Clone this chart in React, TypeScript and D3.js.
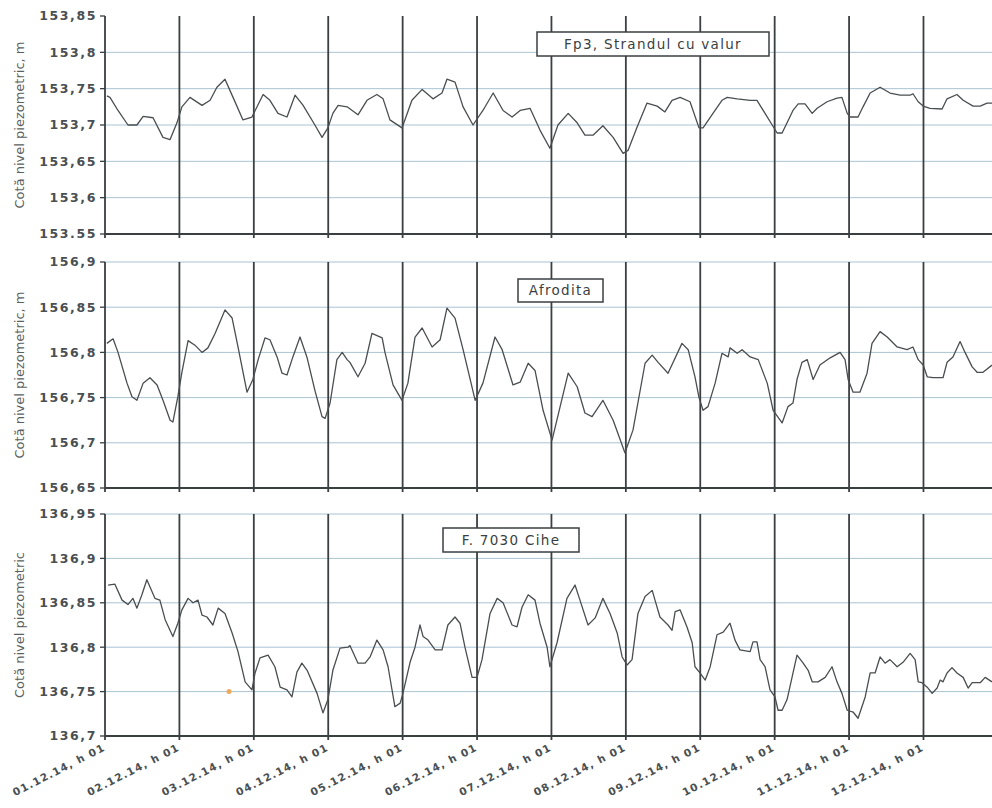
import React from "react";
import * as d3 from "d3";

// time in hours since 01.12.14 h01, level in m
const fp3Levels: [number, number][] = [[0.6,153.740],[1.6,153.738],[4.2,153.72],[7.4,153.70],[10.3,153.70],[12.3,153.712],[15.5,153.71],[18.7,153.683],[21.0,153.68],[23.2,153.703],[24.8,153.725],[27.4,153.738],[31.3,153.727],[33.9,153.734],[36.1,153.752],[38.7,153.763],[41.3,153.738],[44.5,153.707],[47.4,153.711],[51.0,153.742],[53.2,153.734],[55.8,153.716],[58.7,153.711],[61.3,153.741],[63.9,153.727],[67.7,153.70],[70.0,153.683],[71.9,153.696],[73.5,153.716],[75.2,153.727],[78.1,153.725],[81.6,153.714],[84.5,153.734],[87.7,153.742],[89.7,153.736],[91.9,153.707],[95.8,153.696],[99.0,153.734],[102.3,153.749],[105.8,153.736],[108.7,153.744],[110.3,153.763],[112.9,153.759],[115.5,153.725],[118.7,153.70],[121.9,153.72],[125.2,153.744],[128.4,153.72],[131.3,153.711],[133.9,153.72],[137.1,153.723],[140.3,153.693],[143.5,153.668],[146.1,153.70],[149.4,153.716],[152.3,153.703],[154.8,153.686],[157.4,153.686],[160.6,153.699],[163.9,153.683],[167.1,153.661],[168.7,153.665],[171.6,153.697],[174.8,153.73],[178.1,153.726],[180.6,153.718],[182.9,153.734],[185.5,153.738],[188.7,153.732],[191.6,153.696],[192.9,153.696],[196.1,153.716],[199.0,153.734],[200.7,153.738],[203.9,153.736],[208.1,153.734],[210.3,153.734],[212.9,153.716],[215.2,153.70],[216.8,153.689],[218.4,153.689],[220.0,153.703],[221.9,153.72],[223.6,153.729],[225.8,153.729],[228.1,153.716],[229.7,153.723],[232.9,153.732],[236.1,153.737],[237.7,153.738],[239.4,153.716],[240.3,153.711],[242.9,153.711],[244.5,153.725],[246.8,153.744],[250.0,153.752],[253.2,153.744],[256.5,153.741],[259.7,153.741],[260.6,153.743],[262.3,153.732],[263.9,153.726],[266.1,153.723],[270.0,153.722],[271.6,153.736],[274.8,153.742],[276.8,153.734],[280.0,153.726],[282.3,153.726],[284.5,153.73],[286.1,153.73]];

const afroditaLevels: [number, number][] = [[0.6,156.810],[2.6,156.815],[4.2,156.80],[7.1,156.766],[8.7,156.751],[10.3,156.747],[12.3,156.766],[14.5,156.772],[16.8,156.764],[18.7,156.747],[21.0,156.725],[21.9,156.723],[23.5,156.751],[24.8,156.778],[26.8,156.813],[29.0,156.808],[31.3,156.80],[33.2,156.805],[35.5,156.821],[38.7,156.847],[41.0,156.838],[42.9,156.806],[45.8,156.756],[47.7,156.77],[49.4,156.792],[51.6,156.816],[53.2,156.814],[55.5,156.795],[57.1,156.777],[58.7,156.775],[60.6,156.795],[62.9,156.817],[65.2,156.794],[67.7,156.758],[70.0,156.729],[71.0,156.727],[72.6,156.744],[74.8,156.792],[76.5,156.80],[78.1,156.792],[79.0,156.789],[81.6,156.773],[83.9,156.788],[86.1,156.821],[89.4,156.816],[90.3,156.80],[92.9,156.764],[95.8,156.747],[97.7,156.766],[100.0,156.817],[102.3,156.827],[105.5,156.806],[108.1,156.814],[110.3,156.849],[112.9,156.838],[115.5,156.803],[119.4,156.747],[121.9,156.766],[125.8,156.817],[128.1,156.803],[131.6,156.764],[133.9,156.767],[136.5,156.788],[138.7,156.78],[141.3,156.736],[144.2,156.703],[146.8,156.74],[149.4,156.777],[152.3,156.762],[154.8,156.733],[157.1,156.729],[160.6,156.747],[163.9,156.725],[167.7,156.689],[170.3,156.714],[174.2,156.788],[176.5,156.797],[178.4,156.789],[181.6,156.777],[186.1,156.810],[188.1,156.803],[190.3,156.773],[191.6,156.750],[192.9,156.736],[194.5,156.740],[196.8,156.766],[199.0,156.799],[201.0,156.795],[201.6,156.805],[203.9,156.799],[205.5,156.803],[208.1,156.795],[210.7,156.792],[213.6,156.766],[215.5,156.736],[218.4,156.722],[220.3,156.74],[221.9,156.744],[223.2,156.77],[224.8,156.789],[226.5,156.792],[228.4,156.77],[230.6,156.786],[233.9,156.794],[237.1,156.80],[238.7,156.792],[239.7,156.77],[241.3,156.756],[243.5,156.756],[245.8,156.777],[247.4,156.81],[250.0,156.823],[252.3,156.817],[255.5,156.806],[258.7,156.803],[260.6,156.806],[262.3,156.792],[263.9,156.786],[265.2,156.773],[267.1,156.772],[270.3,156.772],[271.6,156.789],[273.5,156.795],[275.8,156.812],[277.4,156.80],[279.7,156.784],[281.3,156.778],[283.2,156.778],[286.1,156.786]];

const ciheLevels: [number, number][] = [[1.0,136.870],[3.2,136.871],[5.5,136.853],[7.4,136.848],[9.0,136.855],[10.3,136.844],[11.9,136.859],[13.5,136.876],[16.1,136.855],[17.7,136.853],[19.4,136.831],[21.9,136.812],[23.5,136.827],[24.8,136.842],[26.8,136.855],[28.4,136.85],[30.0,136.853],[31.3,136.836],[32.9,136.834],[34.8,136.825],[36.5,136.844],[38.7,136.838],[41.0,136.816],[42.9,136.795],[45.2,136.761],[47.4,136.752],[48.4,136.771],[50.0,136.788],[52.6,136.791],[54.8,136.778],[56.5,136.755],[58.7,136.752],[60.3,136.744],[61.9,136.772],[63.5,136.782],[65.2,136.774],[68.4,136.748],[70.3,136.726],[71.9,136.741],[73.5,136.774],[75.8,136.799],[78.4,136.80],[79.0,136.802],[81.6,136.782],[83.9,136.782],[85.5,136.789],[87.7,136.808],[89.7,136.797],[91.3,136.778],[93.5,136.733],[95.2,136.737],[96.1,136.748],[98.4,136.783],[100.0,136.80],[101.6,136.825],[102.6,136.812],[104.2,136.808],[106.5,136.797],[108.7,136.797],[110.6,136.825],[112.9,136.834],[114.5,136.827],[116.1,136.80],[118.4,136.766],[120.0,136.766],[121.6,136.786],[124.2,136.838],[126.5,136.855],[128.4,136.85],[131.3,136.825],[132.9,136.823],[134.5,136.845],[136.5,136.859],[138.7,136.853],[140.3,136.827],[142.6,136.80],[143.5,136.778],[145.8,136.805],[149.0,136.855],[151.6,136.87],[153.2,136.853],[155.8,136.825],[158.1,136.833],[160.6,136.855],[162.9,136.838],[165.2,136.816],[166.8,136.789],[168.4,136.78],[170.0,136.786],[171.9,136.838],[174.2,136.857],[176.5,136.864],[177.4,136.853],[179.0,136.834],[181.6,136.825],[182.9,136.819],[183.9,136.84],[185.5,136.842],[187.7,136.823],[189.4,136.805],[190.3,136.778],[191.9,136.771],[193.6,136.763],[195.2,136.778],[197.4,136.814],[199.4,136.817],[201.6,136.827],[203.2,136.808],[204.8,136.797],[208.1,136.795],[209.0,136.806],[210.3,136.806],[211.3,136.786],[212.9,136.778],[214.5,136.752],[216.1,136.744],[217.1,136.729],[218.4,136.729],[220.0,136.741],[221.6,136.766],[223.2,136.791],[225.2,136.782],[226.8,136.774],[228.1,136.761],[230.0,136.761],[232.3,136.766],[234.5,136.778],[236.1,136.761],[237.7,136.748],[239.4,136.729],[241.3,136.727],[242.9,136.72],[245.2,136.744],[246.8,136.771],[248.4,136.771],[250.0,136.789],[251.6,136.782],[253.2,136.786],[255.5,136.778],[257.4,136.783],[259.7,136.793],[261.3,136.786],[262.3,136.761],[263.5,136.76],[265.2,136.755],[266.8,136.748],[268.4,136.754],[269.4,136.763],[270.3,136.761],[271.6,136.771],[273.2,136.777],[274.8,136.771],[276.8,136.766],[278.4,136.754],[279.7,136.76],[282.3,136.76],[283.9,136.766],[286.1,136.761]];

const ciheMarker: [number, number][] = [[40.0, 136.75]];

const dayLabels = ["01.12.14, h 01","02.12.14, h 01","03.12.14, h 01","04.12.14, h 01","05.12.14, h 01","06.12.14, h 01","07.12.14, h 01","08.12.14, h 01","09.12.14, h 01","10.12.14, h 01","11.12.14, h 01","12.12.14, h 01"];

const fp3Ticks = [153.85, 153.8, 153.75, 153.7, 153.65, 153.6, 153.55];
const fp3TickLabels = ["153,85","153,8","153,75","153,7","153,65","153,6","153.55"];
const afroditaTicks = [156.9, 156.85, 156.8, 156.75, 156.7, 156.65];
const afroditaTickLabels = ["156,9","156,85","156,8","156,75","156,7","156,65"];
const ciheTicks = [136.95, 136.9, 136.85, 136.8, 136.75, 136.7];
const ciheTickLabels = ["136,95","136,9","136,85","136,8","136,75","136,7"];

const panelTitles = ["Fp3, Strandul cu valur", "Afrodita", "F. 7030 Cihe"];
const axisTitles = ["Cotă nivel piezometric, m", "Cotă nivel piezometric, m", "Cotă nivel piezometric"];

const X0 = 105, X1 = 992;
const x = d3.scaleLinear().domain([0, 286.1]).range([X0, X1]);

const panels = [
  { data: fp3Levels, ticks: fp3Ticks, labels: fp3TickLabels, top: 16, bottom: 234, box: [537, 32, 232, 24], topGrid: false },
  { data: afroditaLevels, ticks: afroditaTicks, labels: afroditaTickLabels, top: 262, bottom: 488, box: [518, 279, 85, 23], topGrid: true },
  { data: ciheLevels, ticks: ciheTicks, labels: ciheTickLabels, top: 514, bottom: 736, box: [443, 528, 136, 24], topGrid: true },
];

const FONT = "'DejaVu Sans', Verdana, sans-serif";

export default function App() {
  const dayHours = d3.range(0, 12).map((d) => d * 24);
  return (
    <>
      <style>{`body{margin:0;background:#fff}`}</style>
      <svg width={992} height={808} style={{ display: "block", background: "#fff" }}>
        {panels.map((p, i) => {
          const y = d3.scaleLinear().domain([p.ticks[p.ticks.length - 1], p.ticks[0]]).range([p.bottom, p.top]);
          const line = d3.line<[number, number]>().x((d) => x(d[0])).y((d) => y(d[1]));
          const [bx, by, bw, bh] = p.box;
          return (
            <g key={i}>
              {p.ticks.slice(0, -1).map((t, j) =>
                j === 0 && !p.topGrid ? null : (
                  <line key={j} x1={X0} x2={X1} y1={y(t)} y2={y(t)} stroke="#a9c3d2" strokeWidth={1} />
                )
              )}
              {dayHours.map((h, j) => (
                <line key={j} x1={x(h)} x2={x(h)} y1={p.top} y2={p.bottom + 4} stroke="#3a3f42" strokeWidth={1.8} />
              ))}
              <line x1={X0} x2={X1} y1={p.bottom} y2={p.bottom} stroke="#3a3f42" strokeWidth={1.8} />
              {p.ticks.map((t, j) => (
                <g key={j}>
                  <line x1={X0 - 5} x2={X0} y1={y(t)} y2={y(t)} stroke="#3a3f42" strokeWidth={1.3} />
                  <text x={97} y={y(t)} dy="0.35em" textAnchor="end" fontFamily={FONT} fontSize={12.5} letterSpacing={1.6} fill="#4a4f52" fontWeight="bold">
                    {p.labels[j]}
                  </text>
                </g>
              ))}
              <path d={line(p.data) || ""} fill="none" stroke="#4a4e50" strokeWidth={1.3} strokeLinejoin="round" />
              <text transform={`translate(24,${(p.top + p.bottom) / 2}) rotate(-90)`} textAnchor="middle" fontFamily={FONT} fontSize={13} fill="#5a5f62">
                {axisTitles[i]}
              </text>
              <rect x={bx} y={by} width={bw} height={bh} fill="#fff" stroke="#3a3f42" strokeWidth={1.5} />
              <text x={bx + bw / 2} y={by + bh / 2} dy="0.36em" textAnchor="middle" fontFamily={FONT} fontSize={13.5} letterSpacing={1.3} fill="#3a3f42">
                {panelTitles[i]}
              </text>
              {i === 2 && ciheMarker.map((m, j) => (
                <circle key={j} cx={x(m[0])} cy={y(m[1])} r={2.5} fill="#f0a85a" />
              ))}
            </g>
          );
        })}
        {dayHours.map((h, j) => (
          <text key={j} transform={`translate(${x(h) + 1},750) rotate(-27)`} textAnchor="end" fontFamily={FONT} fontSize={10.5} letterSpacing={1.2} fill="#4a4f52" fontWeight="bold">
            {dayLabels[j]}
          </text>
        ))}
      </svg>
    </>
  );
}
